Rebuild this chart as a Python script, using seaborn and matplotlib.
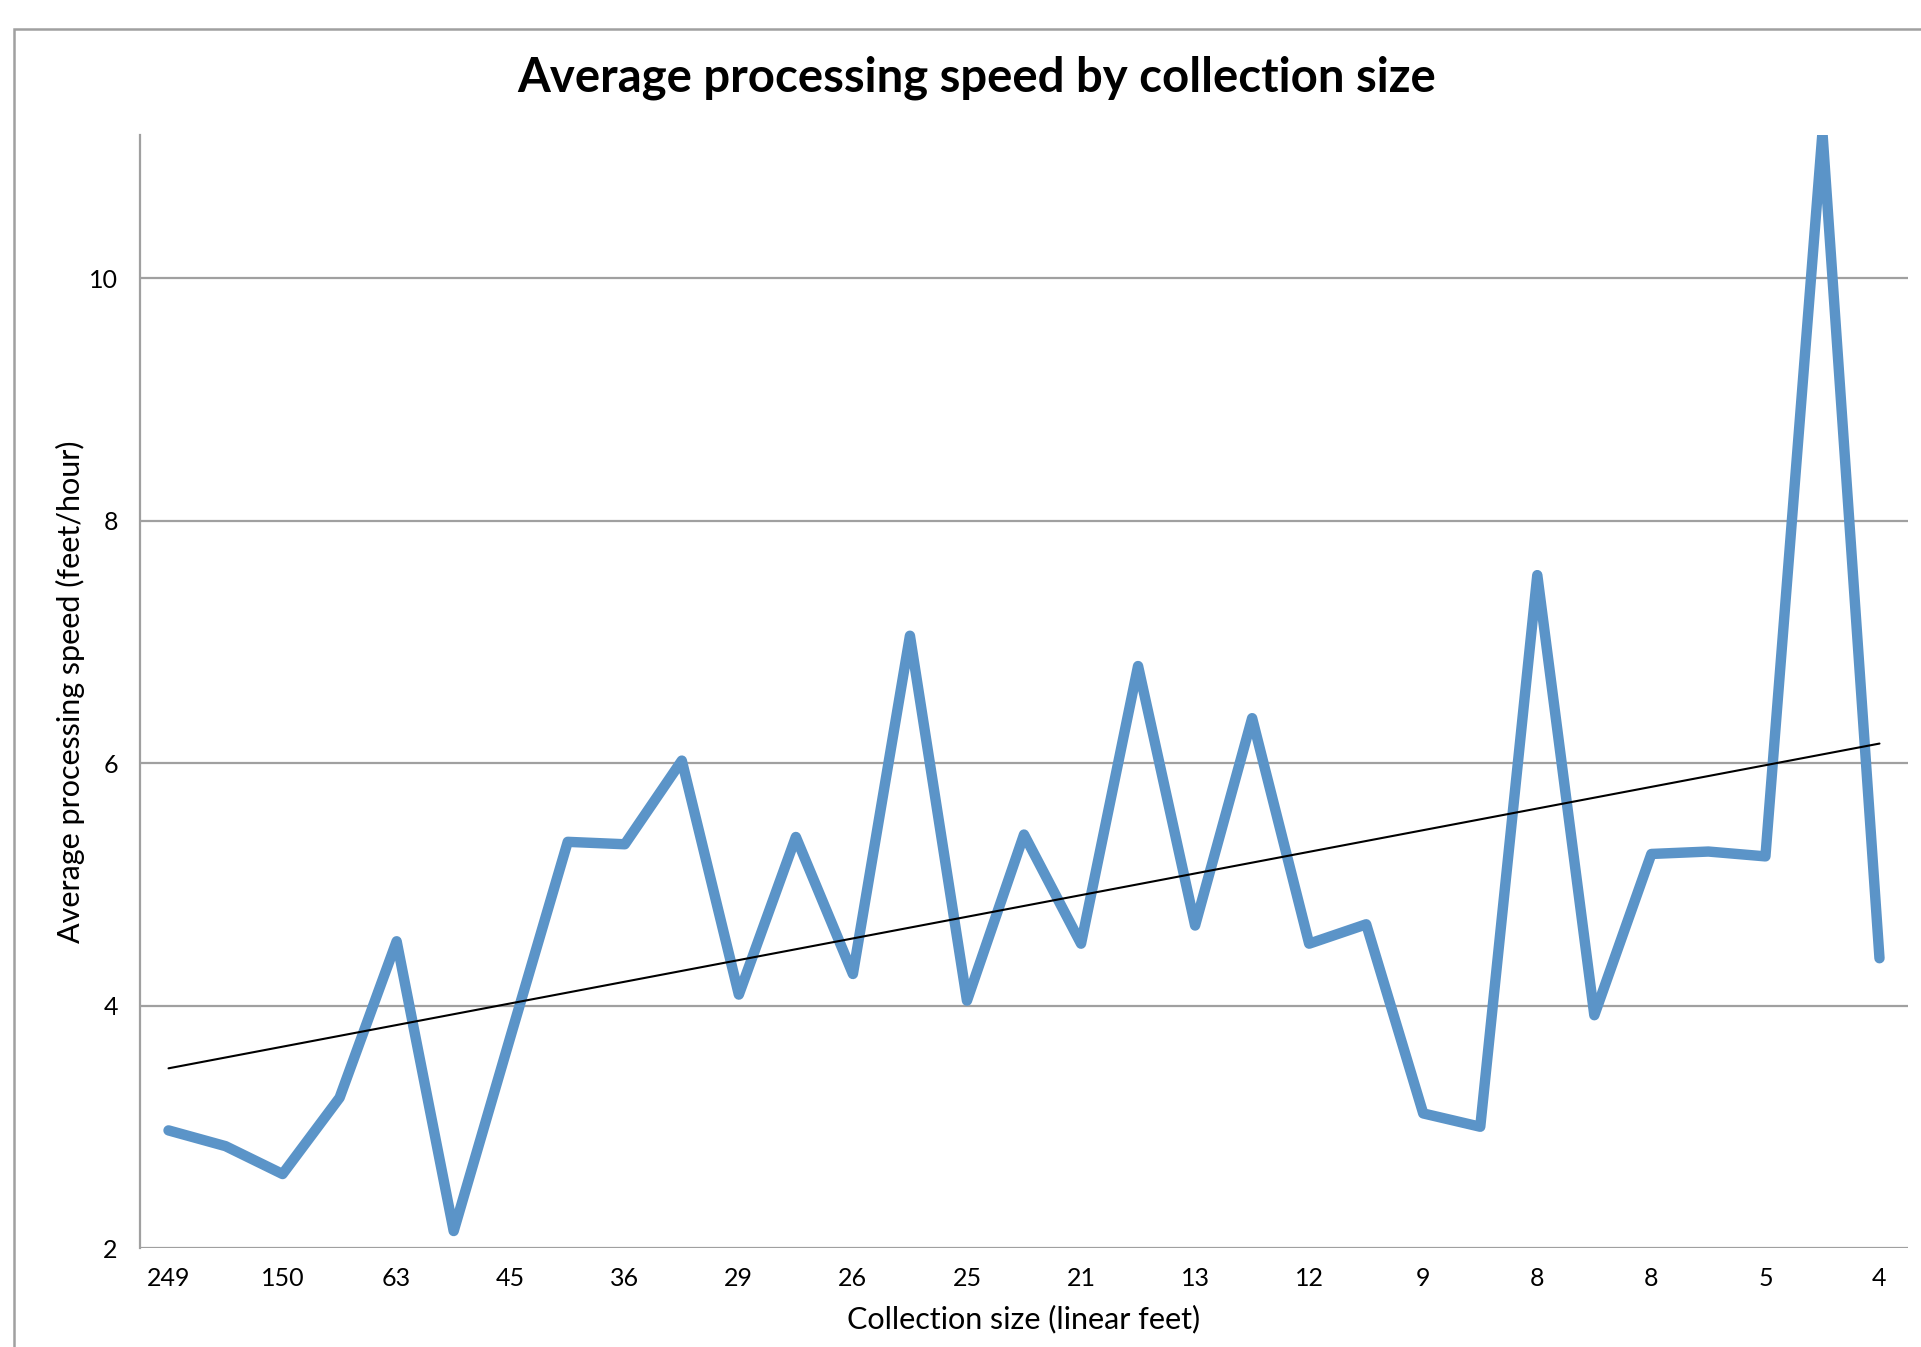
import matplotlib
matplotlib.use("Agg")
import matplotlib.pyplot as plt
import numpy as np
import pandas as pd
import seaborn as sns
from matplotlib.patches import Rectangle

# Average processing speed (feet/hour) per collection, largest collection first
speed = [2.97, 2.84, 2.61, 3.24, 4.53, 2.14, 3.75, 5.35, 5.33, 6.02,
         4.09, 5.39, 4.26, 7.05, 4.04, 5.41, 4.51, 6.80, 4.66, 6.37,
         4.51, 4.67, 3.11, 3.00, 7.55, 3.92, 5.25, 5.27, 5.23, 11.2,
         4.39]
# only every second collection size is labelled on the axis
size_labels = ['249', '150', '63', '45', '36', '29', '26', '25',
               '21', '13', '12', '9', '8', '8', '5', '4']
y_ticks = [2, 4, 6, 8, 10]

df = pd.DataFrame({'idx': np.arange(len(speed)), 'speed': speed})

sns.set_theme(style='white')
plt.rcParams['font.family'] = ['Lato', 'DejaVu Sans']
plt.rcParams['text.color'] = 'black'
plt.rcParams['axes.labelcolor'] = 'black'

fig = plt.figure(figsize=(19.21, 13.47), dpi=100)
ax = fig.add_axes([140/1921, 1-1248/1347, 1768/1921, (1248-135)/1347])

grid_c = '#A0A0A0'
for t in y_ticks:
    ax.axhline(t, color=grid_c, lw=1.6, zorder=0)

sns.lineplot(data=df, x='idx', y='speed', ax=ax, color='#5B94C8', lw=7.5,
             solid_joinstyle='round', solid_capstyle='round', zorder=3)

# linear trend line
k, b = np.polyfit(df['idx'], df['speed'], 1)
ax.plot(df['idx'], k*df['idx'] + b, color='black', lw=1.5, zorder=4)

ax.set_xlim(-0.5, len(speed) - 0.5)
ax.set_ylim(2, 11.18)
ax.set_xticks(np.arange(0, len(speed), 2))
ax.set_xticklabels(size_labels)
ax.set_yticks(y_ticks)
ax.tick_params(axis='both', length=0, labelsize=18, colors='black')
ax.tick_params(axis='y', pad=16)
ax.tick_params(axis='x', pad=14)

for s in ['top', 'right', 'bottom']:
    ax.spines[s].set_visible(False)
ax.spines['left'].set_color(grid_c)
ax.spines['left'].set_linewidth(1.6)

ax.set_xlabel('Collection size (linear feet)', fontsize=22, labelpad=10)
ax.set_ylabel('Average processing speed (feet/hour)', fontsize=22, labelpad=3)

fig.text(977/1921, 1-78/1347, 'Average processing speed by collection size',
         ha='center', va='center', fontsize=34, fontweight='bold')

# outer chart frame (cut off at right and bottom)
fig.add_artist(Rectangle((14/1921, -0.1), 1.2, 1.1 - 29/1347,
                         transform=fig.transFigure, fill=False,
                         edgecolor=grid_c, lw=1.8))

fig.savefig('out.png', dpi=100)
